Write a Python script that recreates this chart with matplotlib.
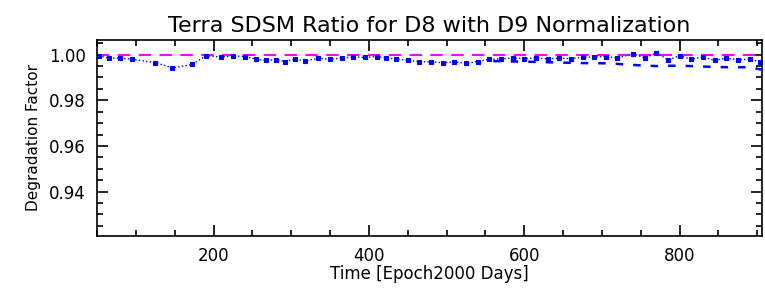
import matplotlib.pyplot as plt
from matplotlib.ticker import MultipleLocator

# SDSM ratio D8 / D9
days_a = [52, 65, 80, 95, 125, 147, 172, 190, 210, 225, 240, 255, 268, 280,
          292, 305, 318, 335, 350, 365, 380, 395, 410, 422, 435, 450, 465,
          480, 495, 510, 525, 540, 555, 570, 585, 600, 615, 630, 645, 660,
          675, 690, 705, 720, 740, 755, 770, 785, 800, 815, 830, 845, 860,
          875, 890, 903]
ratio_a = [0.9995, 0.9985, 0.9985, 0.9980, 0.9965, 0.9942, 0.9957, 0.9995,
           0.9990, 0.9995, 0.9992, 0.9980, 0.9975, 0.9978, 0.9970, 0.9980,
           0.9972, 0.9985, 0.9980, 0.9985, 0.9990, 0.9988, 0.9992, 0.9985,
           0.9982, 0.9975, 0.9970, 0.9968, 0.9965, 0.9968, 0.9962, 0.9970,
           0.9980, 0.9982, 0.9985, 0.9983, 0.9985, 0.9982, 0.9985, 0.9983,
           0.9988, 0.9990, 0.9992, 0.9985, 1.0005, 0.9985, 1.0008, 0.9978,
           0.9995, 0.9980, 0.9990, 0.9975, 0.9985, 0.9978, 0.9980, 0.9970]

days_b = [560, 590, 620, 650, 680, 710, 740, 770, 800, 830, 860, 890, 905]
ratio_b = [0.9972, 0.9970, 0.9968, 0.9965, 0.9963, 0.9962, 0.9955, 0.9950,
           0.9952, 0.9948, 0.9945, 0.9945, 0.9935]

norm_days = [50, 906]
norm_val = [1.0, 1.0]

fig = plt.figure(figsize=(7.65, 2.91), dpi=100)
ax = fig.add_axes([0.127, 0.189, 0.869, 0.674])

ax.plot(norm_days, norm_val, color="#ff00ff", linestyle=(0, (6, 4)), linewidth=1.5)
ax.plot(days_a, ratio_a, color="blue", linestyle=":", linewidth=1,
        marker="s", markersize=3.5, markeredgewidth=0.8)
ax.plot(days_b, ratio_b, color="blue", linestyle=(0, (3, 4)), linewidth=1.8)

ax.set_xlim(50, 906)
ax.set_ylim(0.9205, 1.0065)
ax.xaxis.set_major_locator(MultipleLocator(200))
ax.xaxis.set_minor_locator(MultipleLocator(50))
ax.yaxis.set_major_locator(MultipleLocator(0.02))
ax.yaxis.set_minor_locator(MultipleLocator(0.005))
ax.yaxis.set_major_formatter(plt.FuncFormatter(lambda v, _: f"{v:.2f}"))
ax.tick_params(which="both", direction="in", top=True, right=True, width=1.2)
ax.tick_params(which="major", length=8, labelsize=12, pad=8)
ax.tick_params(which="minor", length=4)
for s in ax.spines.values():
    s.set_linewidth(1.2)

ax.set_title("Terra SDSM Ratio for D8 with D9 Normalization", fontsize=16, pad=6)
ax.set_xlabel("Time [Epoch2000 Days]", fontsize=12, labelpad=0)
ax.set_ylabel("Degradation Factor", fontsize=11, labelpad=6)

fig.savefig("out.png", dpi=100)
